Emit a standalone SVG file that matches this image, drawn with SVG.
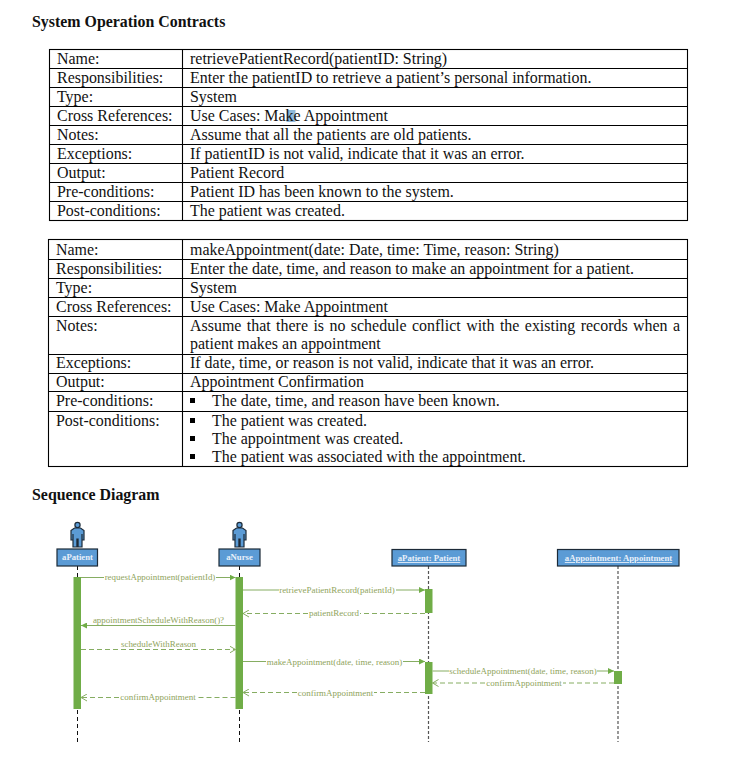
<svg xmlns="http://www.w3.org/2000/svg" width="736" height="757" viewBox="0 0 736 757">
<style>
text{font-family:"Liberation Serif","Times New Roman",serif}
.h{font-size:15.9px;font-weight:bold;fill:#111}
.t{font-size:15.95px;fill:#111}
.b{fill:none;stroke:#000;stroke-width:1.1}
.lb{font-size:8.95px;fill:#8fa45c;text-anchor:middle}
.m{stroke:#86ad62;stroke-width:1;fill:none}
.d{stroke-dasharray:5 3}
.ll{stroke:#111;stroke-width:1;stroke-dasharray:4 3}
.g{stroke:#555;stroke-width:1.2;stroke-dasharray:3 2}
.ac{fill:#70ad47}
.o{fill:#5b9bd5;stroke:#1c2a38;stroke-width:1.2}
.n{font-size:8.7px;font-weight:bold;fill:#e8f0fa;text-anchor:middle}
.u{text-decoration:underline}
.ab{fill:#70ad47}
.ao{fill:none;stroke:#86ad62;stroke-width:1}
</style>
<defs>
<marker id="f" markerWidth="7" markerHeight="6" refX="6" refY="3" orient="auto" markerUnits="userSpaceOnUse"><path d="M0 0L6 3L0 6Z" class="ab"/></marker>
<marker id="o" markerWidth="7" markerHeight="8" refX="6" refY="4" orient="auto" markerUnits="userSpaceOnUse"><path d="M0 0.5L6 4L0 7.5" class="ao"/></marker>
<path id="actor" d="M-6.5 -6.5L-3 -9H3L6.5 -6.5V3H4.5V-3V10H0.6V2H-0.6V10H-4.5V-3V3H-6.5Z"/>
</defs>
<rect x="0" y="0" width="736" height="757" fill="#fff"/>
<text class="h" x="32" y="27">System Operation Contracts</text>
<g id="table1">
<rect class="b" x="49.5" y="49.5" width="638" height="171"/>
<path class="b" d="M182.5 49.5V220.5M49.5 68.5H687.5M49.5 87.5H687.5M49.5 106.5H687.5M49.5 125.5H687.5M49.5 144.5H687.5M49.5 163.5H687.5M49.5 182.5H687.5M49.5 201.5H687.5"/>
<rect x="286.5" y="110" width="9" height="12" fill="#8fb9da"/>
<g class="t">
<text x="57" y="64">Name:</text><text x="190" y="64">retrievePatientRecord(patientID: String)</text>
<text x="57" y="83">Responsibilities:</text><text x="190" y="83">Enter the patientID to retrieve a patient’s personal information.</text>
<text x="57" y="102">Type:</text><text x="190" y="102">System</text>
<text x="57" y="121">Cross References:</text><text x="190" y="121">Use Cases: Make Appointment</text>
<text x="57" y="140">Notes:</text><text x="190" y="140">Assume that all the patients are old patients.</text>
<text x="57" y="159">Exceptions:</text><text x="190" y="159">If patientID is not valid, indicate that it was an error.</text>
<text x="57" y="178">Output:</text><text x="190" y="178">Patient Record</text>
<text x="57" y="197">Pre-conditions:</text><text x="190" y="197">Patient ID has been known to the system.</text>
<text x="57" y="216">Post-conditions:</text><text x="190" y="216">The patient was created.</text>
</g>
</g>
<g id="table2">
<rect class="b" x="48.5" y="239.5" width="639" height="227"/>
<path class="b" d="M182.5 239.5V466.5M48.5 259.5H687.5M48.5 278.5H687.5M48.5 297.5H687.5M48.5 316.5H687.5M48.5 354.5H687.5M48.5 373.5H687.5M48.5 391.5H687.5M48.5 411.5H687.5"/>
<g class="t">
<text x="56" y="255">Name:</text><text x="190" y="255">makeAppointment(date: Date, time: Time, reason: String)</text>
<text x="56" y="274">Responsibilities:</text><text x="190" y="274">Enter the date, time, and reason to make an appointment for a patient.</text>
<text x="56" y="293">Type:</text><text x="190" y="293">System</text>
<text x="56" y="312">Cross References:</text><text x="190" y="312">Use Cases: Make Appointment</text>
<text x="56" y="331">Notes:</text><text x="190" y="331" word-spacing="1.45">Assume that there is no schedule conflict with the existing records when a</text>
<text x="190" y="349">patient makes an appointment</text>
<text x="56" y="368">Exceptions:</text><text x="190" y="368">If date, time, or reason is not valid, indicate that it was an error.</text>
<text x="56" y="387">Output:</text><text x="190" y="387">Appointment Confirmation</text>
<text x="56" y="406">Pre-conditions:</text><text x="212" y="406">The date, time, and reason have been known.</text>
<text x="56" y="426">Post-conditions:</text><text x="212" y="426">The patient was created.</text>
<text x="212" y="444">The appointment was created.</text>
<text x="212" y="462">The patient was associated with the appointment.</text>
</g>
<g fill="#000">
<rect x="190" y="398" width="5" height="5"/><rect x="190" y="418" width="5" height="5"/><rect x="190" y="436" width="5" height="5"/><rect x="190" y="454" width="5" height="5"/>
</g>
</g>
<text class="h" x="32" y="500">Sequence Diagram</text>
<g id="lifelines">
<path class="ll" d="M77.5 566V577M77.5 710V742M239.5 566V577M239.5 710V742"/>
<path class="g" d="M428.5 566V742M618 566V742"/>
</g>
<g id="aPatient">
<circle class="o" cx="77.5" cy="525" r="2.6"/><use href="#actor" x="77.5" y="537" class="o"/>
<rect class="o" x="57" y="549" width="40.5" height="17"/><text class="n" x="77.5" y="560">aPatient</text>
<rect class="ac" x="73.5" y="577" width="7.5" height="132"/>
</g>
<g id="aNurse">
<circle class="o" cx="239.5" cy="525" r="2.6"/><use href="#actor" x="239.5" y="537" class="o"/>
<rect class="o" x="219" y="549" width="41" height="17"/><text class="n" x="239.5" y="560">aNurse</text>
<rect class="ac" x="235.5" y="577" width="7.5" height="132"/>
</g>
<g id="patientObject">
<rect class="o" x="392" y="549.5" width="74" height="16.5"/><text class="n u" x="429" y="561">aPatient: Patient</text>
<rect class="ac" x="425" y="589" width="7.5" height="24"/>
<rect class="ac" x="425" y="662" width="7.5" height="32"/>
</g>
<g id="appointmentObject">
<rect class="o" x="557.5" y="549.5" width="121.5" height="16.5"/><text class="n u" x="618.5" y="561">aAppointment: Appointment</text>
<rect class="ac" x="614" y="671" width="8" height="13"/>
</g>
<g id="connectors">
<path class="m" d="M81 577.5H104M216 577.5H235.5" marker-end="url(#f)"/>
<path class="m" d="M243 590H279M396 590H425" marker-end="url(#f)"/>
<path class="m d" d="M425 613.5H360M308 613.5H243" marker-end="url(#o)"/>
<path class="m" d="M235.5 625.5H81" marker-end="url(#f)"/>
<path class="m d" d="M81 649.5H235.5" marker-end="url(#o)"/>
<path class="m" d="M243 661.5H266M403 661.5H425" marker-end="url(#f)"/>
<path class="m d" d="M425 692.5H374M297 692.5H243" marker-end="url(#o)"/>
<path class="m d" d="M235.5 697.5H197M119 697.5H81" marker-end="url(#o)"/>
<path class="m" d="M432.5 671H449M597 671H614" marker-end="url(#f)"/>
<path class="m d" d="M614 683H563M485 683H432.5" marker-end="url(#o)"/>
<g>
<text class="lb" x="160" y="580">requestAppointment(patientId)</text>
<text class="lb" x="337" y="593">retrievePatientRecord(patientId)</text>
<text class="lb" x="334" y="616">patientRecord</text>
<text class="lb" x="158.5" y="623">appointmentScheduleWithReason()?</text>
<text class="lb" x="158.5" y="647">scheduleWithReason</text>
<text class="lb" x="334.5" y="665">makeAppointment(date, time, reason)</text>
<text class="lb" x="335.5" y="696">confirmAppointment</text>
<text class="lb" x="158" y="700">confirmAppointment</text>
<text class="lb" x="523" y="674">scheduleAppointment(date, time, reason)</text>
<text class="lb" x="524" y="686">confirmAppointment</text>
</g>
</g>
</svg>
